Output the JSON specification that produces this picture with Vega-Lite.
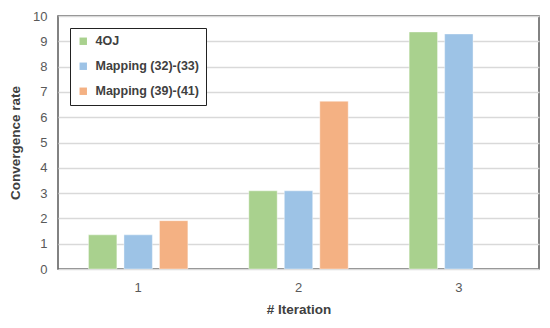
{
  "$schema": "https://vega.github.io/schema/vega-lite/v6.json",
  "autosize": "none",
  "width": 481,
  "height": 253,
  "padding": {"left": 58, "top": 16, "right": 11, "bottom": 59},
  "background": "white",
  "config": {
    "font": "Liberation Sans",
    "view": {"stroke": "#595959", "strokeWidth": 1.5}
  },
  "data": {
    "values": [
      {"iteration": "1", "series": "4OJ", "value": 1.35},
      {"iteration": "1", "series": "Mapping (32)-(33)", "value": 1.35},
      {"iteration": "1", "series": "Mapping (39)-(41)", "value": 1.91},
      {"iteration": "2", "series": "4OJ", "value": 3.09},
      {"iteration": "2", "series": "Mapping (32)-(33)", "value": 3.09},
      {"iteration": "2", "series": "Mapping (39)-(41)", "value": 6.63},
      {"iteration": "3", "series": "4OJ", "value": 9.37},
      {"iteration": "3", "series": "Mapping (32)-(33)", "value": 9.29}
    ]
  },
  "mark": {"type": "bar", "stroke": "white", "strokeOpacity": 0.5, "strokeWidth": 0.8},
  "encoding": {
    "x": {
      "field": "iteration",
      "type": "nominal",
      "scale": {"paddingInner": 0.38, "paddingOuter": 0.19},
      "axis": {
        "title": "# Iteration",
        "labelAngle": 0,
        "labelFontSize": 13,
        "labelColor": "#595959",
        "labelPadding": 12,
        "titleFontSize": 13.5,
        "titleFontWeight": "bold",
        "titleColor": "#404040",
        "titlePadding": 8,
        "domain": false,
        "ticks": false
      }
    },
    "xOffset": {
      "field": "series",
      "type": "nominal",
      "scale": {"domain": ["4OJ", "Mapping (32)-(33)", "Mapping (39)-(41)"], "paddingInner": 0.2, "paddingOuter": 0}
    },
    "y": {
      "field": "value",
      "type": "quantitative",
      "scale": {"domain": [0, 10], "nice": false},
      "axis": {
        "title": "Convergence rate",
        "values": [0, 1, 2, 3, 4, 5, 6, 7, 8, 9, 10],
        "labelFontSize": 13,
        "labelColor": "#595959",
        "labelPadding": 11,
        "titleFontSize": 13.5,
        "titleFontWeight": "bold",
        "titleColor": "#404040",
        "titlePadding": 10,
        "gridColor": "#d9d9d9",
        "gridWidth": 1.5,
        "domain": false,
        "ticks": false
      }
    },
    "color": {
      "field": "series",
      "type": "nominal",
      "scale": {
        "domain": ["4OJ", "Mapping (32)-(33)", "Mapping (39)-(41)"],
        "range": ["#a9d18e", "#9dc3e6", "#f4b183"]
      },
      "legend": {
        "title": null,
        "orient": "none",
        "legendX": 12,
        "legendY": 12,
        "strokeColor": "#222222",
        "fillColor": "white",
        "padding": 7,
        "symbolType": "square",
        "symbolSize": 55,
        "symbolStrokeWidth": 0,
        "labelFontSize": 12.5,
        "labelFontWeight": "bold",
        "labelColor": "#404040",
        "labelOffset": 6,
        "rowPadding": 12
      }
    }
  }
}
